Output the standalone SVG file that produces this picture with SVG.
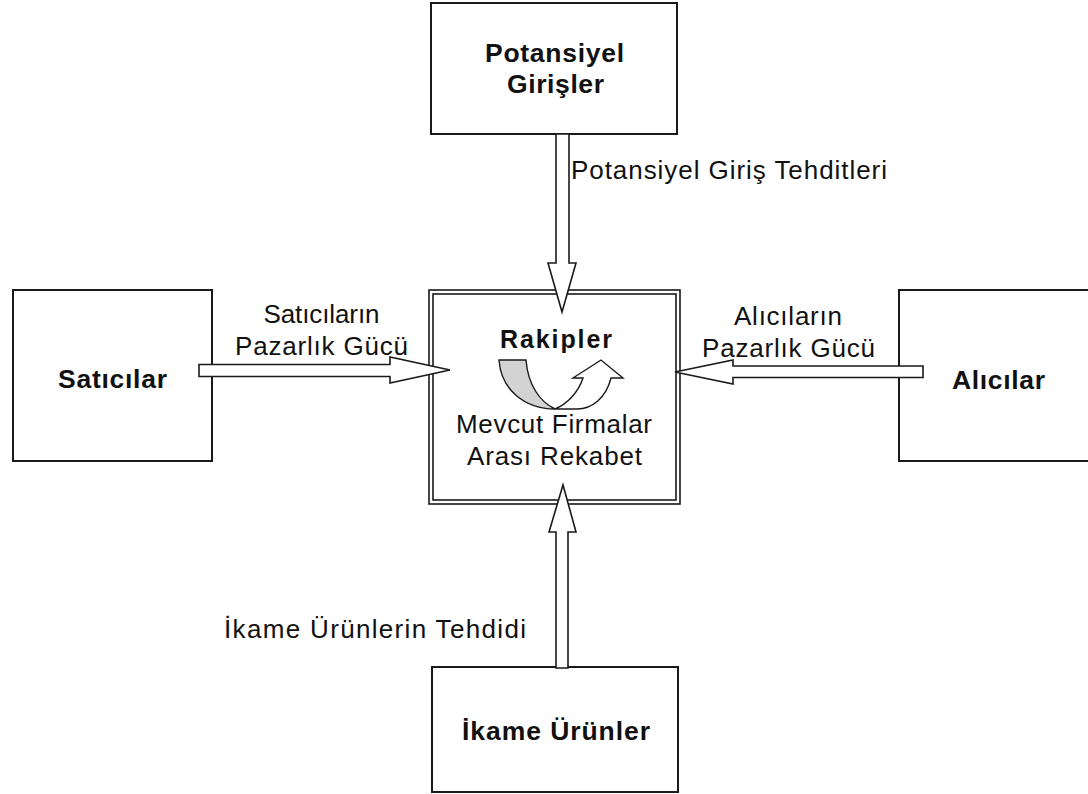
<svg xmlns="http://www.w3.org/2000/svg" width="1088" height="794" viewBox="0 0 1088 794">
<style>
.box{fill:#fff;stroke:#1a1a1a;stroke-width:2}
.dbl{fill:none;stroke:#1a1a1a;stroke-width:1.6}
.arr{fill:#fff;stroke:#1a1a1a;stroke-width:1.6;stroke-linejoin:miter}
.b{font-family:"Liberation Sans",Arial,sans-serif;font-weight:bold;font-size:26.5px;fill:#111;text-anchor:middle}
.t{font-family:"Liberation Sans",Arial,sans-serif;font-size:26px;fill:#111}
.m{text-anchor:middle}
</style>
<rect width="1088" height="794" fill="#fff"/>
<g id="node-potansiyel">
<rect class="box" x="431" y="3" width="246" height="131"/>
<text class="b" x="554.5" y="62" textLength="139" lengthAdjust="spacing">Potansiyel</text>
<text class="b" x="555.5" y="93" textLength="97" lengthAdjust="spacing">Girişler</text>
</g>
<g id="node-saticilar">
<rect class="box" x="13" y="290" width="199" height="171"/>
<text class="b" x="112.5" y="388" textLength="109" lengthAdjust="spacing">Satıcılar</text>
</g>
<g id="node-alicilar">
<rect class="box" x="899" y="290" width="200" height="171"/>
<text class="b" x="998.5" y="389" textLength="93" lengthAdjust="spacing">Alıcılar</text>
</g>
<g id="node-ikame">
<rect class="box" x="432" y="667" width="246" height="125"/>
<text class="b" x="556" y="740" textLength="188" lengthAdjust="spacing">İkame Ürünler</text>
</g>
<g id="node-rakipler">
<rect fill="#fff" x="429" y="290" width="251" height="214"/>
<rect class="dbl" x="429" y="290" width="251" height="214"/>
<rect class="dbl" x="433" y="294" width="243" height="206"/>
<text class="b" style="font-size:25px" x="556" y="348" textLength="112" lengthAdjust="spacing">Rakipler</text>
<path d="M499,360 L526,360 C528,385 540,402 555,409 C525,409 501,390 499,360 Z" fill="#d3d3d3" stroke="#1a1a1a" stroke-width="1.4"/>
<path class="arr" style="stroke-width:1.4" d="M555,409 C567,404 578,393 583,378 L573,378 L601,360 L623,378 L611,378 C606,398 592,409 577,409 Z"/>
<text class="t m" x="554" y="433" textLength="196" lengthAdjust="spacing">Mevcut Firmalar</text>
<text class="t m" x="554.5" y="465" textLength="175" lengthAdjust="spacing">Arası Rekabet</text>
</g>
<g id="connectors">
<polygon class="arr" points="556,134 569,134 569,263 576,263 562,312 548,263 556,263"/>
<polygon class="arr" points="556,668 568,668 568,532 576,532 563,485 549,532 556,532"/>
<polygon class="arr" points="199,364.5 390,364.5 390,357 450,370 390,383 390,376.5 199,376.5"/>
<polygon class="arr" points="923,366 733,366 733,360 675,372 733,384 733,377.5 923,377.5"/>
<text class="t" x="571" y="179" textLength="316" lengthAdjust="spacing">Potansiyel Giriş Tehditleri</text>
<text class="t m" x="321.5" y="323" textLength="116" lengthAdjust="spacing">Satıcıların</text>
<text class="t m" x="321.5" y="355" textLength="173" lengthAdjust="spacing">Pazarlık Gücü</text>
<text class="t m" x="788" y="325" textLength="108" lengthAdjust="spacing">Alıcıların</text>
<text class="t m" x="788.5" y="357" textLength="173" lengthAdjust="spacing">Pazarlık Gücü</text>
<text class="t" x="224" y="638" textLength="302" lengthAdjust="spacing">İkame Ürünlerin Tehdidi</text>
</g>
</svg>
